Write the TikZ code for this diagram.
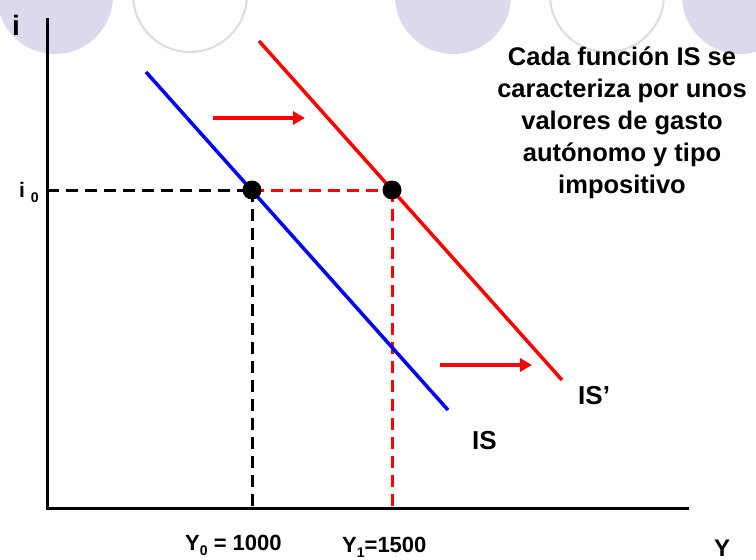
\documentclass[tikz,border=0pt]{standalone}
\usepackage{fontspec}
\setmainfont{Liberation Sans}
\usetikzlibrary{arrows.meta}
\definecolor{lav}{RGB}{218,218,236}
\definecolor{isblue}{RGB}{0,0,255}
\definecolor{isred}{RGB}{255,0,0}
\newcommand{\fsz}[1]{\fontsize{#1}{#1}\selectfont}
\tikzset{
  deco/.style={fill=lav, draw=none},
  decoring/.style={draw=lav, line width=2pt, fill=none},
  axisline/.style={line width=3pt, black},
  curveblue/.style={line width=3.5pt, isblue},
  curvered/.style={line width=3.5pt, isred},
  dashblack/.style={line width=3pt, black, dash pattern=on 12pt off 7pt},
  dashred/.style={line width=3pt, isred, dash pattern=on 12pt off 7pt},
  shift arrow/.style={line width=4pt, isred, -{Triangle[length=12pt,width=13pt]}},
  eqdot/.style={circle, fill=black, inner sep=0pt, minimum size=19pt},
  lbl/.style={font=\bfseries, inner sep=0pt},
  note/.style={font=\bfseries\fontsize{25.5}{32}\selectfont, align=center, inner sep=0pt},
}
\begin{document}
\begin{tikzpicture}[x=1pt,y=-1pt]
\useasboundingbox (0,0) rectangle (756,560);
\begin{scope}
  \clip (0,0) rectangle (756,560);
  \fill[deco] (55,-4) circle (58);
  \draw[decoring] (190,-5) circle (57);
  \fill[deco] (453,-4) circle (58);
  \draw[decoring] (607,-5) circle (57);
  \fill[deco] (740,-4) circle (58);
\end{scope}
% axes
\coordinate (O) at (47,508);
\coordinate (ytop) at (47,18);
\coordinate (xend) at (689,508);
\draw[axisline] (ytop) -- (O) -- (xend);
% IS curves
\coordinate (b1) at (146,72);
\coordinate (b2) at (448,410);
\coordinate (r1) at (259,41);
\coordinate (r2) at (562,380);
% equilibrium points
\coordinate (E0) at (252,190);
\coordinate (E1) at (392,190);
\coordinate (i0) at (47,190);
\coordinate (Y0) at (252,508);
\coordinate (Y1) at (392,508);
\draw[dashblack] (i0) -- (E0);
\draw[dashred] (E0) -- (E1);
\draw[dashblack] (E0) -- (Y0);
\draw[dashred] (E1) -- (Y1);
\draw[curveblue] (b1) -- (b2);
\draw[curvered] (r1) -- (r2);
\node[eqdot] (d0) at (E0) {};
\node[eqdot] (d1) at (E1) {};
% shift arrows
\coordinate (a1s) at (213,118);
\coordinate (a1e) at (305,118);
\coordinate (a2s) at (440,365);
\coordinate (a2e) at (532,365);
\draw[shift arrow] (a1s) -- (a1e);
\draw[shift arrow] (a2s) -- (a2e);
% labels
\node[lbl, anchor=base west] (li) at (12,35) {\fsz{28}i};
\node[lbl, anchor=base west] (li0) at (19,197) {\fsz{21}i \raisebox{-5pt}{\fsz{14}0}};
\node[lbl, anchor=base west] (lY0) at (185,550) {\fsz{22}Y\raisebox{-5pt}{\fsz{14}0} = 1000};
\node[lbl, anchor=base west] (lY1) at (342,552) {\fsz{22}Y\raisebox{-5pt}{\fsz{14}1}=1500};
\node[lbl, anchor=base west] (lY) at (714,556) {\fsz{24}Y};
\node[lbl, anchor=base west] (lIS) at (472,449) {\fsz{26}IS};
\node[lbl, anchor=base west] (lISp) at (578,404) {\fsz{26}IS’};
\node[note, anchor=north] (txt) at (622,47)
  {Cada función IS se\\caracteriza por unos\\valores de gasto\\autónomo y tipo\\impositivo};
\end{tikzpicture}
\end{document}
